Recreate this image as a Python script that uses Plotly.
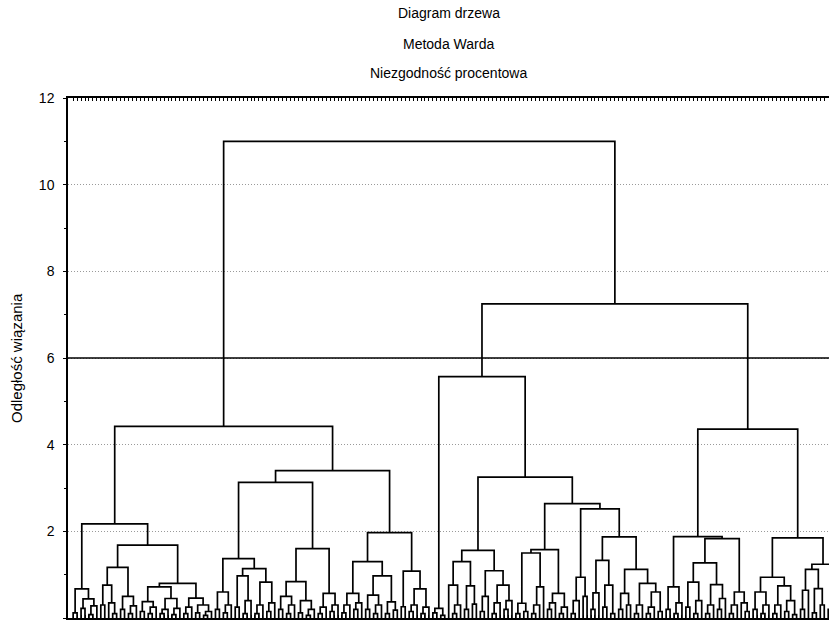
import re
import plotly.graph_objects as go

# Ward-linkage tree, written as nested "(left,right)height" groups; "o" is a leaf.
L1A = "((o,o)0.12,((o,o)0.22,((o,o)0.08,o)0.28)0.44)0.67"
L1B1 = "(((o,o)0.3,(o,(o,o)0.1)0.35)0.76,((o,o)0.2,((o,o)0.1,o)0.28)0.5)1.17"
L1B2 = ("((((o,o)0.15,((o,o)0.1,o)0.25)0.38,(((o,o)0.1,o)0.2,((o,o)0.08,o)0.22)0.45)0.72,"
        "(((o,o)0.1,o)0.25,((o,o)0.12,((o,o)0.06,o)0.15)0.3)0.46)0.8")
L2A1 = ("(((o,o)0.2,((o,o)0.12,o)0.3)0.6,"
        "(((o,o)0.25,((o,o)0.1,o)0.4)0.97,(((o,o)0.1,o)0.3,((o,o)0.15,o)0.35)0.83)1.14)1.37")
L2A2 = ("((((o,o)0.2,((o,o)0.1,o)0.3)0.5,((o,o)0.12,((o,o)0.06,o)0.2)0.4)0.84,"
        "(((o,o)0.1,o)0.25,((o,o)0.15,o)0.3)0.57)1.6")
L2B1 = ("((((o,o)0.12,o)0.3,((o,o)0.2,o)0.35)0.57,"
        "(((o,o)0.2,((o,o)0.1,o)0.3)0.53,((o,o)0.1,(o,o)0.18)0.37)0.97)1.3")
L2B2 = "((o,o)0.26,(((o,o)0.15,o)0.3,((o,o)0.1,o)0.25)0.67)1.08"

R1A = "((o,o)0.12,(o,o)0.06)0.22"
R1B1 = ("(((o,((o,o)0.1,o)0.3)0.76,((o,o)0.2,(o,o)0.32)0.74)1.3,"
        "(((o,o)0.15,o)0.5,(((o,o)0.1,o)0.35,((o,o)0.2,o)0.4)0.76)1.09)1.56")
R1B2A = ("((((o,o)0.1,(o,o)0.15)0.34,(((o,o)0.1,o)0.3,o)0.72)1.5,"
         "(((o,o)0.2,o)0.35,((o,o)0.1,o)0.25)0.57)1.58")
R1B2D = ("((((o,o)0.1,o)0.4,(o,o)0.5)0.94,"
         "((((o,o)0.2,o)0.58,((o,o)0.25,(o,o)0.1)0.76)1.33,"
         "(((o,o)0.2,(o,o)0.3)0.57,(((o,o)0.1,o)0.3,(((o,o)0.1,o)0.25,(o,o)0.15)0.6)0.8)1.12)1.87)2.52")
R2A = ("(((o,o)0.2,((o,o)0.1,o)0.35)0.72,"
       "((((o,o)0.25,((o,o)0.1,o)0.4)0.83,(((o,o)0.1,o)0.3,((o,o)0.2,o)0.45)0.77)1.27,"
       "(((o,o)0.1,o)0.3,(o,(o,o)0.15)0.35)0.6)1.83)1.88")
R2B = ("((((o,o)0.2,((o,o)0.1,o)0.3)0.6,(((o,o)0.1,o)0.3,((o,o)0.15,(o,o)0.08)0.4)0.74)0.94,"
       "((((o,o)0.2,o)0.64,((o,o)0.12,(o,o)0.3)0.68)1.12,((o,o)0.2,(o,o)0.4)0.9)1.24)1.85")

L1 = f"({L1A},({L1B1},{L1B2})1.68)2.17"
L2 = f"(({L2A1},{L2A2})3.13,({L2B1},{L2B2})1.97)3.4"
R1 = f"({R1A},({R1B1},({R1B2A},{R1B2D})2.64)3.25)5.57"
R2 = f"({R2A},{R2B})4.36"
TREE = f"(({L1},{L2})4.42,({R1},{R2})7.25)11.0"

CUT_LEVEL = 6.0
Y_TICKS = [0, 2, 4, 6, 8, 10, 12]
TITLE_LINES = ["Diagram drzewa", "Metoda Warda", "Niezgodność procentowa"]
Y_TITLE = "Odległość wiązania"


def parse(s):
    pos = 0

    def node():
        nonlocal pos
        if s[pos] == "o":
            pos += 1
            return None
        pos += 1  # "("
        left = node()
        pos += 1  # ","
        right = node()
        pos += 1  # ")"
        m = re.match(r"[0-9.]+", s[pos:])
        pos += len(m.group())
        return (float(m.group()), left, right)

    return node()


xs, ys = [], []
counter = [0]


def layout(n):
    """Return (x, height) of a node and collect its bracket segments."""
    if n is None:
        x = counter[0]
        counter[0] += 1
        return x, 0.0
    h, left, right = n
    xl, hl = layout(left)
    xr, hr = layout(right)
    xs.extend([xl, xl, xr, xr, None])
    ys.extend([hl, h, h, hr, None])
    return (xl + xr) / 2.0, h


layout(parse(TREE))
n_leaves = counter[0]

fig = go.Figure()
fig.add_trace(go.Scatter(x=xs, y=ys, mode="lines",
                         line=dict(color="black", width=1.7),
                         hoverinfo="skip", showlegend=False))

fig.add_shape(type="line", xref="paper", x0=0, x1=1, yref="y", y0=CUT_LEVEL, y1=CUT_LEVEL,
              line=dict(color="black", width=1.5), layer="above")

for txt, ypix in zip(TITLE_LINES, [13, 44, 73]):
    fig.add_annotation(text=txt, xref="paper", x=0.5, yref="paper",
                       y=(618 - ypix) / 520.0, yanchor="middle", showarrow=False,
                       font=dict(family="Liberation Sans", size=14, color="#000000"))

fig.add_annotation(text=Y_TITLE, xref="paper", x=(16 - 68) / 761.0, yref="paper", y=0.5,
                   textangle=-90, showarrow=False, xanchor="center", yanchor="middle",
                   font=dict(family="Liberation Sans", size=15, color="#000000"))

fig.update_xaxes(range=[-1.3, 191.2], showgrid=False, zeroline=False,
                 showline=True, linecolor="black", linewidth=1.5, mirror="ticks",
                 ticks="inside", ticklen=3, tickwidth=1, tickcolor="black",
                 tickvals=list(range(n_leaves)), showticklabels=False)
fig.update_yaxes(range=[0, 12], tickvals=Y_TICKS, showgrid=True, gridcolor="#9a9a9a",
                 griddash="1px,2px", gridwidth=1, zeroline=False, showline=True,
                 linecolor="black", linewidth=1.5, ticks="outside", ticklen=3,
                 tickcolor="black", ticklabelstandoff=6,
                 minor=dict(tickvals=[1, 3, 5, 7, 9, 11], ticks="outside", ticklen=2,
                            tickcolor="black", showgrid=False),
                 tickfont=dict(family="Liberation Sans", size=14, color="#000000"))

fig.update_layout(width=829, height=621, margin=dict(l=68, r=0, t=98, b=3),
                  paper_bgcolor="white", plot_bgcolor="white")

fig.write_html("out.html")
